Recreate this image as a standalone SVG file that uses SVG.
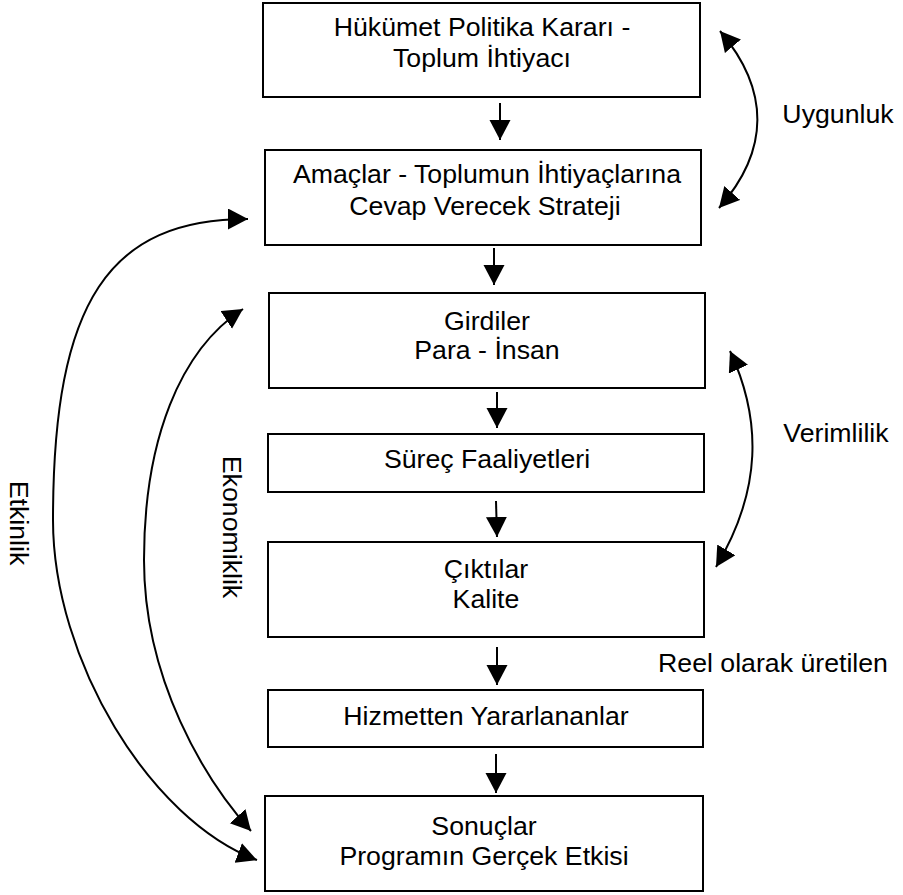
<svg xmlns="http://www.w3.org/2000/svg" width="903" height="895" viewBox="0 0 903 895">
<style>
.box{fill:#fff;stroke:#000;stroke-width:2}
.t{font-family:"Liberation Sans",Arial,sans-serif;font-size:26.7px;fill:#000;text-anchor:middle}
.c{fill:none;stroke:#000;stroke-width:2}
</style>
<defs>
<marker id="ah" markerUnits="userSpaceOnUse" markerWidth="22" markerHeight="22" refX="20" refY="10.5" orient="auto-start-reverse">
<path d="M0,0 L20,10.5 L0,21 Z" fill="#000"/>
</marker>
</defs>
<rect width="903" height="895" fill="#fff"/>
<g id="n1"><rect class="box" x="263" y="3" width="437" height="94"/><text class="t" x="482" y="36">Hükümet Politika Kararı -</text><text class="t" x="482" y="67">Toplum İhtiyacı</text></g>
<g id="n2"><rect class="box" x="265" y="150" width="436" height="95"/><text class="t" x="487" y="183">Amaçlar - Toplumun İhtiyaçlarına</text><text class="t" x="485" y="215">Cevap Verecek Strateji</text></g>
<g id="n3"><rect class="box" x="269" y="293" width="436" height="95"/><text class="t" x="487" y="330">Girdiler</text><text class="t" x="487" y="359">Para - İnsan</text></g>
<g id="n4"><rect class="box" x="268" y="434" width="436" height="58"/><text class="t" x="487" y="468">Süreç Faaliyetleri</text></g>
<g id="n5"><rect class="box" x="268" y="542" width="436" height="95"/><text class="t" x="486" y="578">Çıktılar</text><text class="t" x="486" y="608">Kalite</text></g>
<g id="n6"><rect class="box" x="268" y="690" width="435" height="57"/><text class="t" x="486" y="725">Hizmetten Yararlananlar</text></g>
<g id="n7"><rect class="box" x="265" y="796" width="438" height="95"/><text class="t" x="484" y="835">Sonuçlar</text><text class="t" x="484" y="865">Programın Gerçek Etkisi</text></g>
<g id="connectors">
<line class="c" x1="500" y1="103" x2="500" y2="140" marker-end="url(#ah)"/>
<line class="c" x1="494" y1="248" x2="494" y2="285" marker-end="url(#ah)"/>
<line class="c" x1="497" y1="392" x2="497" y2="428" marker-end="url(#ah)"/>
<line class="c" x1="496" y1="501" x2="497" y2="537" marker-end="url(#ah)"/>
<line class="c" x1="497" y1="647" x2="497" y2="685" marker-end="url(#ah)"/>
<line class="c" x1="496" y1="754" x2="496" y2="793" marker-end="url(#ah)"/>
<path class="c" d="M720,31 C770,90 770,150 719,208" marker-start="url(#ah)" marker-end="url(#ah)"/>
<path class="c" d="M730,351 C762,420 762,490 716,567" marker-start="url(#ah)" marker-end="url(#ah)"/>
<path class="c" d="M251,831 C205,780 144,680 144,560 C144,440 180,350 243,309" marker-start="url(#ah)" marker-end="url(#ah)"/>
<path class="c" d="M257,860 C150,820 53,660 53,520 C53,300 110,219 248,219" marker-start="url(#ah)" marker-end="url(#ah)"/>
</g>
<g id="labels">
<text class="t" x="838" y="123">Uygunluk</text>
<text class="t" x="836" y="442">Verimlilik</text>
<text class="t" x="773" y="672">Reel olarak üretilen</text>
<text class="t" transform="translate(10,523) rotate(90)">Etkinlik</text>
<text class="t" transform="translate(223,527) rotate(90)">Ekonomiklik</text>
</g>
</svg>
